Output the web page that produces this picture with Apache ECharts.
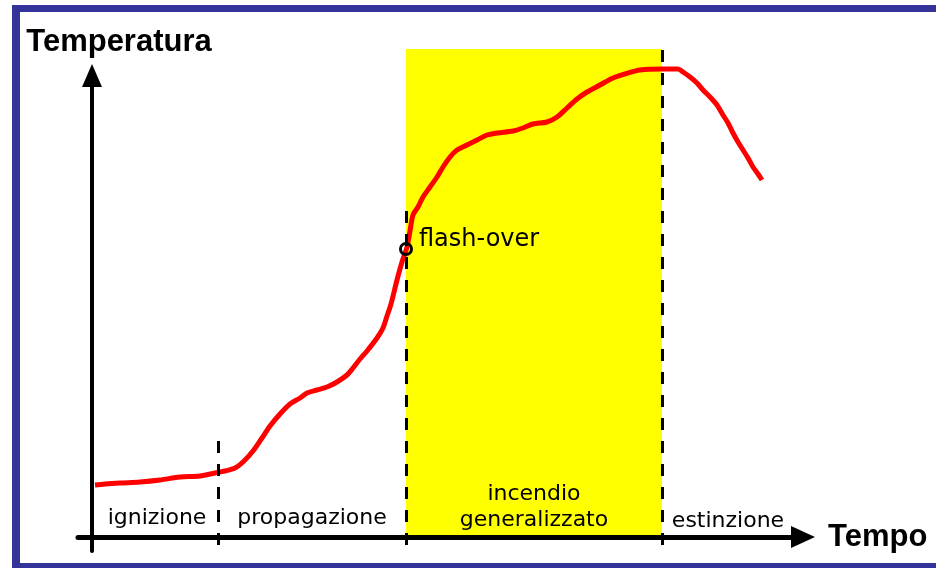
<!DOCTYPE html>
<html>
<head>
<meta charset="utf-8">
<script src="https://cdn.jsdelivr.net/npm/echarts@6/dist/echarts.min.js"></script>
<style>
  html, body { margin: 0; padding: 0; background: #fff; }
  #wrap { position: relative; width: 936px; height: 568px; overflow: hidden; }
  /* cornice blu */
  #frame {
    position: absolute; left: 12px; top: 5px; width: 1000px; height: 551px;
    border-top: 7px solid #333399; border-left: 8px solid #333399; border-bottom: 8px solid #333399;
  }
  #chart { position: absolute; left: 0; top: 0; width: 936px; height: 568px; }
</style>
</head>
<body>
<div id="wrap">
  <div id="frame"></div>
  <div id="chart"></div>
</div>
<script>
// tempo (unità arbitrarie) e temperatura
const tempo = [3, 13, 28, 48, 68, 88, 108, 123, 133, 143, 151, 161, 170, 178, 188, 198, 208, 215, 225, 235,
  245, 255, 261, 268, 275, 285, 291, 295, 299, 305, 310, 315, 318, 321, 326, 331, 338, 345, 351, 358,
  365, 375, 385, 395, 405, 421, 431, 441, 455, 465, 475, 485, 495, 508, 521, 536, 548, 570, 586, 591,
  598, 605, 611, 618, 625, 631, 636, 641, 646, 651, 656, 661, 666, 670];
const temperatura = [52, 53, 54, 55, 57, 60, 61, 64, 66, 69, 75, 86, 99, 111, 123, 133, 139, 144, 147, 150,
  155, 162, 169, 178, 186, 199, 209, 221, 233, 257, 275, 290, 306, 322, 330, 340, 350, 360, 370, 380,
  387, 392, 397, 402, 404, 406, 409, 413, 415, 420, 429, 438, 445, 452, 459, 464, 467, 468, 468, 465,
  460, 454, 447, 440, 432, 422, 414, 404, 395, 387, 379, 370, 363, 357];

// limiti delle fasi e punto di flash-over
const confiniFasi = [126, 314, 570];
const altezzeConfini = [99, 332, 493];
const flashOver = [314, 288];
const fasi = ['ignizione', 'propagazione', 'incendio\ngeneralizzato', 'estinzione'];
const posFasi = [[65, 19], [220, 19], [442, 30], [636, 16]];

const chart = echarts.init(document.getElementById('chart'));

const lineData = tempo.map((t, i) => [t, temperatura[i]]);
const smallFont = { fontFamily: 'DejaVu Sans', fontSize: 22, color: '#000', lineHeight: 26 };
const hidden = { axisLine: { show: false }, axisTick: { show: false }, axisLabel: { show: false }, splitLine: { show: false } };

chart.setOption({
  animation: false,
  // grid 0: assi visibili con frecce; grid 1: stessa scala, più alta, per i dati
  grid: [
    { left: 78, right: 133, top: 75.5, bottom: 17 },
    { left: 78, right: 133, top: 37, bottom: 17 }
  ],
  xAxis: [
    {
      type: 'value', gridIndex: 0, min: -14, max: 711, z: 10,
      name: 'Tempo', nameLocation: 'end', nameGap: 25,
      nameTextStyle: { fontFamily: 'Liberation Sans', fontWeight: 'bold', fontSize: 31, color: '#000' },
      axisLine: { onZero: true, symbol: ['none', 'triangle'], symbolSize: [22, 24], lineStyle: { color: '#000', width: 5 } },
      axisTick: { show: false }, axisLabel: { show: false }, splitLine: { show: false }
    },
    { type: 'value', gridIndex: 1, min: -14, max: 711, ...hidden }
  ],
  yAxis: [
    {
      type: 'value', gridIndex: 0, min: -14, max: 461.5, z: 10,
      name: 'Temperatura', nameLocation: 'end', nameGap: 18,
      nameTextStyle: { fontFamily: 'Liberation Sans', fontWeight: 'bold', fontSize: 31, color: '#000', padding: [0, 0, 0, 54] },
      axisLine: { onZero: true, symbol: ['none', 'triangle'], symbolSize: [20, 23], lineStyle: { color: '#000', width: 4 } },
      axisTick: { show: false }, axisLabel: { show: false }, splitLine: { show: false }
    },
    { type: 'value', gridIndex: 1, min: -14, max: 500, ...hidden }
  ],
  series: [
    {
      type: 'line',
      xAxisIndex: 1, yAxisIndex: 1,
      data: lineData,
      clip: false,
      showSymbol: false,
      smooth: 0.3,
      lineStyle: { color: '#ff0000', width: 5 },
      z: 3,
      markArea: {
        silent: true,
        itemStyle: { color: '#ffff00', opacity: 1 },
        data: [[{ xAxis: confiniFasi[1], yAxis: 0 }, { xAxis: confiniFasi[2], yAxis: 488 }]]
      },
      markLine: {
        silent: true,
        symbol: 'none',
        label: { show: false },
        lineStyle: { color: '#000', width: 3, type: [12, 11] },
        data: confiniFasi.map((x, i) => [{ coord: [x, -8] }, { coord: [x, altezzeConfini[i]] }])
      },
      markPoint: {
        silent: true,
        symbolSize: 0,
        label: { show: true, formatter: p => p.name, ...smallFont },
        data: fasi.map((f, i) => ({ name: f, coord: posFasi[i] }))
      }
    },
    {
      type: 'scatter',
      xAxisIndex: 1, yAxisIndex: 1,
      data: [flashOver],
      clip: false,
      symbol: 'circle',
      symbolSize: 11,
      z: 6,
      itemStyle: { color: 'rgba(0,0,0,0)', borderColor: '#000', borderWidth: 3, opacity: 1 },
      label: {
        show: true, position: 'right', distance: 6, offset: [0, -9],
        formatter: 'flash-over', fontFamily: 'DejaVu Sans', fontSize: 24, color: '#000'
      }
    }
  ]
});
</script>
</body>
</html>
